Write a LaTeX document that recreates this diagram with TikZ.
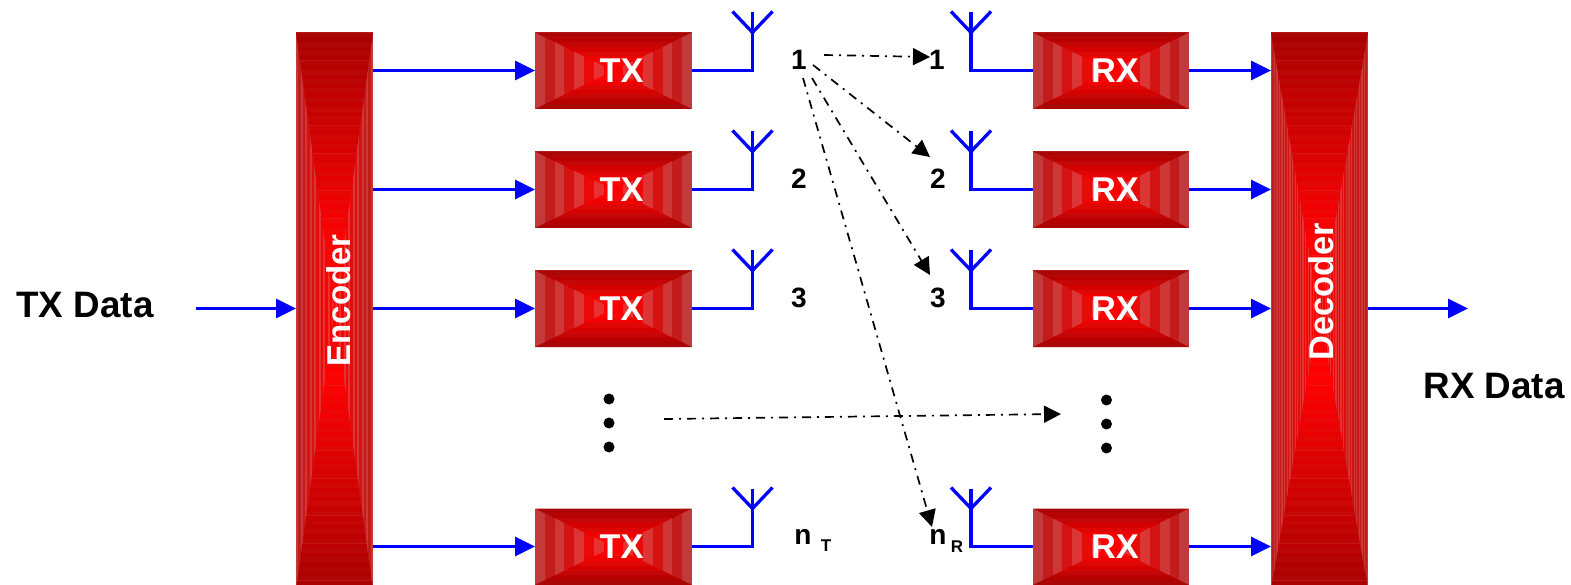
\documentclass[tikz,border=0pt]{standalone}
\usepackage{fontspec}
\setmainfont{Liberation Sans}
\usetikzlibrary{arrows.meta,calc}
\definecolor{sideA}{HTML}{C23A3A}
\definecolor{sideB}{HTML}{B82020}
\definecolor{sideC}{HTML}{F03030}
\definecolor{topA}{HTML}{A80000}
\newcommand{\fsz}[1]{\fontsize{#1}{#1}\selectfont\bfseries}
\newcommand{\bevelbox}[6]{% x0 y0 x1 y1 rings stripeperiod
  \pgfmathsetmacro{\cxx}{(#1+#3)/2}\pgfmathsetmacro{\cyy}{(#2+#4)/2}
  \pgfmathsetmacro{\hww}{(#3-#1)/2}\pgfmathsetmacro{\hhh}{(#4-#2)/2}
  \pgfmathtruncatemacro{\lastr}{#5-1}
  \foreach \i in {0,...,\lastr}{
    \pgfmathsetmacro{\ss}{1-\i/#5}
    \pgfmathsetmacro{\pp}{min(100,100*1.35*\i/#5)}
    \pgfmathtruncatemacro{\odd}{mod(\i,#6)}
    \pgfmathsetmacro{\qq}{min(100,100*1.1*\i/#5)}
    \pgfmathsetmacro{\xa}{\cxx-\hww*\ss}\pgfmathsetmacro{\xb}{\cxx+\hww*\ss}
    \pgfmathsetmacro{\ya}{\cyy-\hhh*\ss}\pgfmathsetmacro{\yb}{\cyy+\hhh*\ss}
    \ifnum\odd=0 \colorlet{sidec}{sideC!\qq!sideA}\colorlet{topc}{red!\pp!topA!90!sideA}\else \colorlet{sidec}{red!\qq!sideB}\colorlet{topc}{red!\pp!topA}\fi
    \fill[sidec] (\xa,\ya) rectangle (\xb,\yb);
    \fill[topc] (\xa,\ya) -- (\xb,\ya) -- (\cxx,\cyy) -- cycle;
    \fill[topc] (\xa,\yb) -- (\xb,\yb) -- (\cxx,\cyy) -- cycle;
  }
}
\tikzset{
  wire/.style={blue,line width=3.3pt},
  flow/.style={wire,-{Triangle[length=20pt,width=19pt]}},
  aerial/.style={wire,line cap=butt,line join=miter},
  link/.style={black,line width=1.7pt,dash pattern=on 9pt off 6pt on 2pt off 6pt,-{Triangle[length=17pt,width=17pt]}},
  blocklabel/.style={text=white,inner sep=0pt,font=\fsz{34.4}},
  tag/.style={text=black,inner sep=0pt,font=\fsz{28}},
  dot/.style={circle,fill=black,inner sep=0pt,minimum size=11pt},
  datalabel/.style={text=black,inner sep=0pt,font=\fsz{36.8}},
  hit/.style={inner sep=0pt,outer sep=0pt}
}
\begin{document}
\begin{tikzpicture}[x=1pt,y=-1pt]
\useasboundingbox (0,0) rectangle (1571,585);
\clip (0,0) rectangle (1571,585);
\bevelbox{296}{32.5}{373}{590}{60}{2}
\bevelbox{1271}{32.5}{1368}{590}{60}{2}
\foreach \yy in {32.5,151.5,270.5,508.5}{
  \bevelbox{535}{\yy}{692}{\yy+76.5}{8}{2}
  \bevelbox{1033}{\yy}{1189}{\yy+76.5}{8}{2}
}
\node[hit,minimum width=77pt,minimum height=558pt] (enc) at (334.5,311) {};
\node[hit,minimum width=97pt,minimum height=558pt] (dec) at (1319.5,311) {};
\node[blocklabel,font=\fsz{33},rotate=90] at (338.5,300.5) {Encoder};
\node[blocklabel,font=\fsz{34.4},rotate=90] at (1321,291.5) {Decoder};
\foreach \n/\yy in {1/70,2/189,3/308,4/546}{
  \node[hit,minimum width=157pt,minimum height=77pt] (tx\n) at (613.5,\yy+0.5) {};
  \node[hit,minimum width=156pt,minimum height=77pt] (rx\n) at (1111,\yy+0.5) {};
  \node[blocklabel] (txl\n) at (621.5,\yy+0.5) {TX};
  \node[blocklabel] (rxl\n) at (1115,\yy+0.5) {RX};
  \draw[flow] (enc.east |- tx\n.west) -- (tx\n.west);
  \draw[flow] (rx\n.east) -- (dec.west |- rx\n.east);
  \coordinate (ta\n) at (752.5,\yy+0.5);
  \coordinate (ra\n) at (971,\yy+0.5);
  \draw[aerial] (tx\n.east) -- (ta\n) -- ++(0,-58);
  \draw[aerial] ($(ta\n)+(-20,-59)$) -- ($(ta\n)+(0,-38)$) -- ($(ta\n)+(20,-59)$);
  \draw[aerial] (rx\n.west) -- (ra\n) -- ++(0,-58);
  \draw[aerial] ($(ra\n)+(-20,-59)$) -- ($(ra\n)+(0,-38)$) -- ($(ra\n)+(20,-59)$);
}
% tags
\node[tag] (t1) at (799,60) {1};
\node[tag] (t2) at (799,179) {2};
\node[tag] (t3) at (799,298) {3};
\node[tag] (tn) at (803,537) {n};
\node[tag,font=\fsz{17}] (tns) at (826,546) {T};
\node[tag] (r1) at (937,60) {1};
\node[tag] (r2) at (938,179) {2};
\node[tag] (r3) at (938,298) {3};
\node[tag] (rn) at (938,537) {n};
\node[tag,font=\fsz{17}] (rns) at (957,547) {R};
% dots
\foreach \n/\yy in {a/399,b/423,c/447}{
  \node[dot] (dl\n) at (609,\yy) {};
  \node[dot] (dr\n) at (1106.5,\yy+1) {};
}
% data
\node[datalabel] (txd) at (85,305) {TX Data};
\node[datalabel] (rxd) at (1494,386) {RX Data};
\coordinate (inS) at (196,308.5);
\coordinate (outE) at (1468,308.5);
\draw[flow] (inS) -- (enc.west |- inS);
\draw[flow] (dec.east |- outE) -- (outE);
% links
\coordinate (s1) at (824,55);
\coordinate (e1) at (930,57);
\coordinate (s2) at (813,65);
\coordinate (e2) at (930,157);
\coordinate (s3) at (812,78);
\coordinate (e3) at (930,275);
\coordinate (s4) at (803,78);
\coordinate (e4) at (932,527);
\coordinate (s5) at (664,419);
\coordinate (e5) at (1061,414);
\draw[link] (s1) -- (e1);
\draw[link] (s2) -- (e2);
\draw[link] (s3) -- (e3);
\draw[link] (s4) -- (e4);
\draw[link] (s5) -- (e5);
\end{tikzpicture}
\end{document}
